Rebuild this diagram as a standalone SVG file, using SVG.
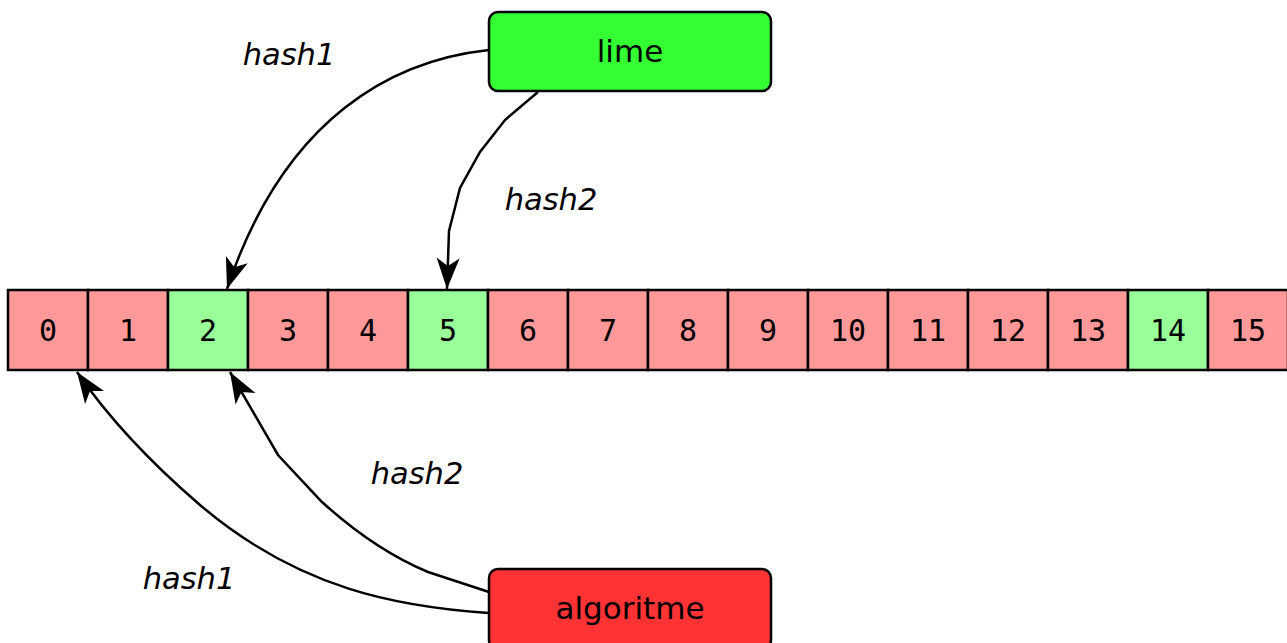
<svg xmlns="http://www.w3.org/2000/svg" width="1287" height="643" viewBox="0 0 1287 643">
<style>
.cell{stroke:#000;stroke-width:2.5}
.red{fill:#ff9999}
.green{fill:#99ff99}
.num{font-family:"DejaVu Sans Mono",monospace;font-size:30px;text-anchor:middle;fill:#000}
.node{stroke:#000;stroke-width:2.5}
.ntxt{font-family:"DejaVu Sans",sans-serif;font-size:31px;text-anchor:middle;fill:#000}
.lbl{font-family:"DejaVu Sans",sans-serif;font-style:italic;font-size:30.5px;text-anchor:middle;fill:#000}
.edge{fill:none;stroke:#000;stroke-width:2.5;marker-end:url(#ah)}
</style>
<defs>
<marker id="ah" markerUnits="userSpaceOnUse" viewBox="-32 -13 34 26" refX="0" refY="0" markerWidth="34" markerHeight="26" orient="auto">
<path d="M0,0 L-31,-11.5 L-23,0 L-31,11.5 Z" fill="#000"/>
</marker>
</defs>
<g id="array">
<rect class="cell red" x="8" y="290" width="80" height="80"/><text class="num" x="48" y="341">0</text>
<rect class="cell red" x="88" y="290" width="80" height="80"/><text class="num" x="128" y="341">1</text>
<rect class="cell green" x="168" y="290" width="80" height="80"/><text class="num" x="208" y="341">2</text>
<rect class="cell red" x="248" y="290" width="80" height="80"/><text class="num" x="288" y="341">3</text>
<rect class="cell red" x="328" y="290" width="80" height="80"/><text class="num" x="368" y="341">4</text>
<rect class="cell green" x="408" y="290" width="80" height="80"/><text class="num" x="448" y="341">5</text>
<rect class="cell red" x="488" y="290" width="80" height="80"/><text class="num" x="528" y="341">6</text>
<rect class="cell red" x="568" y="290" width="80" height="80"/><text class="num" x="608" y="341">7</text>
<rect class="cell red" x="648" y="290" width="80" height="80"/><text class="num" x="688" y="341">8</text>
<rect class="cell red" x="728" y="290" width="80" height="80"/><text class="num" x="768" y="341">9</text>
<rect class="cell red" x="808" y="290" width="80" height="80"/><text class="num" x="848" y="341">10</text>
<rect class="cell red" x="888" y="290" width="80" height="80"/><text class="num" x="928" y="341">11</text>
<rect class="cell red" x="968" y="290" width="80" height="80"/><text class="num" x="1008" y="341">12</text>
<rect class="cell red" x="1048" y="290" width="80" height="80"/><text class="num" x="1088" y="341">13</text>
<rect class="cell green" x="1128" y="290" width="80" height="80"/><text class="num" x="1168" y="341">14</text>
<rect class="cell red" x="1208" y="290" width="80" height="80"/><text class="num" x="1248" y="341">15</text>
</g>
<g id="connectors">
<path class="edge" d="M489,50 C395,60 285,115 227,289"/>
<path class="edge" d="M538,92 L505,120 L480,152 L460,188 L449,231 L447,289"/>
<path class="edge" d="M489,592 L428,572 Q375,550 322,502 L278,455 L230,372"/>
<path class="edge" d="M489,613 C400,607 300,590 200,505 C150,462 110,420 77,372"/>
<text class="lbl" x="289" y="65">hash1</text>
<text class="lbl" x="551" y="210">hash2</text>
<text class="lbl" x="417" y="484">hash2</text>
<text class="lbl" x="189" y="589">hash1</text>
</g>
<g id="lime">
<rect class="node" x="489" y="12" width="282" height="79" rx="9" fill="#33ff33"/>
<text class="ntxt" x="630" y="62">lime</text>
</g>
<g id="algoritme">
<rect class="node" x="489" y="569" width="282" height="80" rx="9" fill="#ff3333"/>
<text class="ntxt" x="630" y="619">algoritme</text>
</g>
</svg>
